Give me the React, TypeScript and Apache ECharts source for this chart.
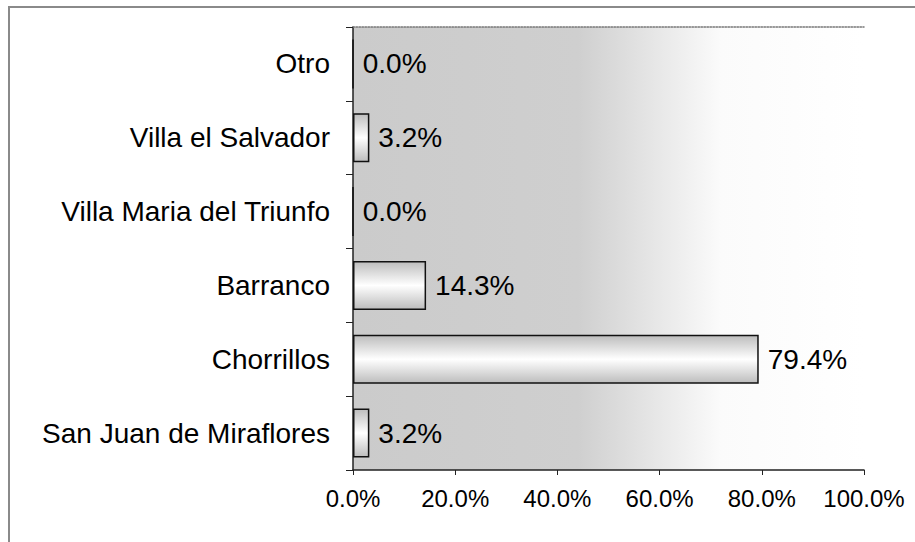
import React, { useEffect, useRef } from "react";
import * as echarts from "echarts";

const categories = [
  "San Juan de Miraflores",
  "Chorrillos",
  "Barranco",
  "Villa Maria del Triunfo",
  "Villa el Salvador",
  "Otro",
];
const values = [3.2, 79.4, 14.3, 0.0, 3.2, 0.0];
const xTicks = { min: 0, max: 100, interval: 20 };

const FONT = "'Liberation Sans', Arial, sans-serif";

export default function App() {
  const ref = useRef<HTMLDivElement>(null);
  useEffect(() => {
    document.body.style.margin = "0";
    if (!ref.current) return;
    const chart = echarts.init(ref.current, null, { renderer: "svg" });
    const bgGrad = new echarts.graphic.LinearGradient(0, 0, 1, 0, [
      { offset: 0, color: "#cbcbcb" },
      { offset: 0.44, color: "#cfcfcf" },
      { offset: 0.6, color: "#e8e8e8" },
      { offset: 0.72, color: "#fbfbfb" },
      { offset: 1, color: "#ffffff" },
    ]);
    const barGrad = new echarts.graphic.LinearGradient(0, 0, 0, 1, [
      { offset: 0, color: "#bdbdbd" },
      { offset: 0.5, color: "#ffffff" },
      { offset: 1, color: "#bdbdbd" },
    ]);
    chart.setOption({
      animation: false,
      backgroundColor: "#ffffff",
      textStyle: { fontFamily: FONT },
      graphic: [
        {
          type: "rect",
          shape: { x: 9, y: 7, width: 1000, height: 1000 },
          style: { fill: "none", stroke: "#8a8a8a", lineWidth: 2 },
          silent: true,
        },
      ],
      grid: {
        left: 353,
        right: 51,
        top: 27,
        bottom: 72,
        show: true,
        backgroundColor: bgGrad,
        borderWidth: 0,
      },
      xAxis: [
        {
          type: "value",
          min: xTicks.min,
          max: xTicks.max,
          interval: xTicks.interval,
          position: "bottom",
          axisLine: { show: true, lineStyle: { color: "#222", width: 1.5 } },
          axisTick: { show: true, length: 5, lineStyle: { color: "#222" } },
          splitLine: { show: false },
          axisLabel: {
            color: "#000",
            fontSize: 24,
            fontFamily: FONT,
            margin: 16,
            formatter: (v: number) => v.toFixed(1) + "%",
          },
        },
        {
          type: "value",
          min: xTicks.min,
          max: xTicks.max,
          position: "top",
          axisLine: {
            show: true,
            lineStyle: { color: "#777", width: 1.5, type: "dotted" },
          },
          axisTick: { show: false },
          axisLabel: { show: false },
          splitLine: { show: false },
        },
      ],
      yAxis: {
        type: "category",
        data: categories,
        axisLine: { show: true, lineStyle: { color: "#222", width: 1.5 } },
        axisTick: { show: true, length: 7, lineStyle: { color: "#222" } },
        axisLabel: {
          color: "#000",
          fontSize: 28,
          fontFamily: FONT,
          margin: 23,
        },
      },
      series: [
        {
          type: "bar",
          xAxisIndex: 0,
          data: values,
          barWidth: 49,
          itemStyle: {
            color: barGrad,
            borderColor: "#111",
            borderWidth: 1.5,
          },
          label: {
            show: true,
            position: "right",
            distance: 9,
            color: "#000",
            fontSize: 28,
            fontFamily: FONT,
            formatter: (p: any) => Number(p.value).toFixed(1) + "%",
          },
        },
      ],
    });
    return () => chart.dispose();
  }, []);
  return <div ref={ref} style={{ width: 915, height: 542 }} />;
}
